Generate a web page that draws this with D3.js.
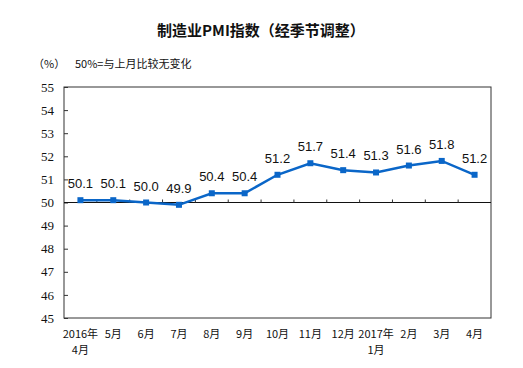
<!DOCTYPE html>
<html><head><meta charset="utf-8">
<script src="https://cdn.jsdelivr.net/npm/d3@7/dist/d3.min.js"></script>
<style>body{margin:0;background:#fff}svg{display:block}</style>
</head><body>
<script>
const categories = ["2016年\n4月","5月","6月","7月","8月","9月","10月","11月","12月","2017年\n1月","2月","3月","4月"];
const values = [50.1,50.1,50.0,49.9,50.4,50.4,51.2,51.7,51.4,51.3,51.6,51.8,51.2];
const yTicks = [45,46,47,48,49,50,51,52,53,54,55];
const title = "制造业PMI指数（经季节调整）";
const unitLabel = "（%）";
const note = "50%=与上月比较无变化";

const W=523,H=368;
const m={l:64,r:491,t:87,b:318};
const svg=d3.select("body").append("svg").attr("width",W).attr("height",H);
const x=d3.scaleBand().domain(d3.range(categories.length)).range([m.l,m.r]);
const y=d3.scaleLinear().domain([45,55]).range([m.b,m.t]);
const serif="'Liberation Serif','DejaVu Serif',serif";
const cjk="'Noto Sans CJK SC',sans-serif";

svg.append("text").attr("x",261).attr("y",36).attr("text-anchor","middle")
  .attr("font-family",cjk).attr("font-size",15).attr("font-weight","bold").attr("fill","#111").text(title);
svg.append("text").attr("x",33).attr("y",68).attr("font-family",cjk).attr("font-size",11).attr("fill","#111").text(unitLabel);
svg.append("text").attr("x",75).attr("y",68).attr("font-family",cjk).attr("font-size",11).attr("fill","#111").text(note);

// frame
svg.append("rect").attr("x",m.l).attr("y",m.t).attr("width",m.r-m.l).attr("height",m.b-m.t)
  .attr("fill","none").attr("stroke","#333").attr("stroke-width",1);

// y axis
const ya=svg.append("g").attr("transform",`translate(${m.l},0)`)
  .call(d3.axisLeft(y).tickValues(yTicks).tickSize(-4).tickPadding(10).tickFormat(d3.format("d")));
ya.select(".domain").remove();
ya.selectAll("line").attr("stroke","#333");
ya.selectAll("text").attr("font-family",serif).attr("font-size",13).attr("fill","#111");

// 50 baseline with ticks at boundaries
svg.append("line").attr("x1",m.l).attr("x2",m.r).attr("y1",y(50)).attr("y2",y(50)).attr("stroke","#111").attr("stroke-width",1);
svg.append("g").selectAll("line").data(d3.range(1,categories.length)).join("line")
  .attr("x1",d=>x(d)).attr("x2",d=>x(d)).attr("y1",y(50)).attr("y2",y(50)-3).attr("stroke","#333");

// x labels
const xl=svg.append("g").selectAll("text").data(categories).join("text")
  .attr("text-anchor","middle").attr("font-family",cjk).attr("font-size",11).attr("fill","#111");
xl.each(function(d,i){
  const parts=d.split("\n");
  const t=d3.select(this);
  parts.forEach((p,j)=>t.append("tspan").attr("x",x(i)+x.bandwidth()/2).attr("y",338+j*16).text(p));
});

// line
const cx=i=>x(i)+x.bandwidth()/2;
svg.append("path").datum(values).attr("fill","none").attr("stroke","#0a66c8").attr("stroke-width",2.5)
  .attr("d",d3.line().x((d,i)=>cx(i)).y(d=>y(d)));
svg.append("g").selectAll("rect").data(values).join("rect")
  .attr("x",(d,i)=>cx(i)-3).attr("y",d=>y(d)-3).attr("width",6).attr("height",6).attr("fill","#0a66c8");
svg.append("g").selectAll("text").data(values).join("text")
  .attr("x",(d,i)=>cx(i)).attr("y",d=>y(d)-12).attr("text-anchor","middle")
  .attr("font-family","'Liberation Sans',Arial,sans-serif").attr("font-size",13).attr("fill","#111")
  .text(d=>d.toFixed(1));
</script>
</body></html>
